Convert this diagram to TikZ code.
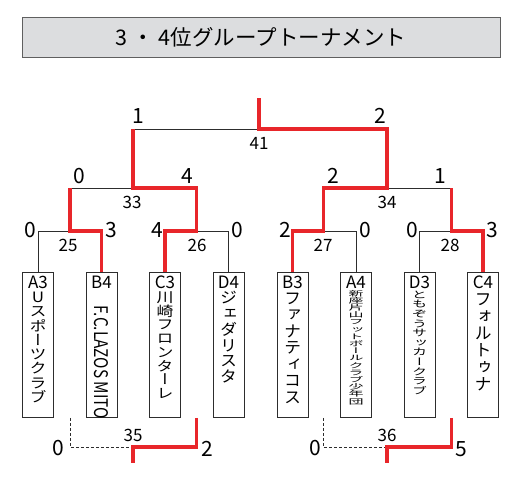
\documentclass[tikz,border=0pt]{standalone}
\usepackage{fontspec}
\usepackage{graphicx}
\setmainfont{Noto Sans CJK JP}
\newfontfamily\tatefont[RawFeature=+vert]{Noto Sans CJK JP}
\definecolor{winred}{RGB}{232, 38, 42}
\definecolor{titlegray}{RGB}{220, 221, 223}
\definecolor{titleframe}{RGB}{95, 95, 95}
\definecolor{lineblack}{RGB}{45, 45, 45}

% team names set top to bottom, one character per line
\def\tatechars#1{\ifx#1\relax\else\hbox to 1em{\vrule height .88em depth .12em width 0pt\hss#1\hss}\expandafter\tatechars\fi}
\newcommand\tate[3][17]{\scalebox{1}[#2]{\vbox{\fontsize{#1}{#1}\tatefont\offinterlineskip\tatechars#3\relax}}}

\begin{document}
\begin{tikzpicture}[x=1pt, y=-1pt,
    titlebox/.style={rectangle, draw=titleframe, fill=titlegray, line width=1pt, minimum width=478pt, minimum height=40pt, inner sep=0pt, font=\fontsize{21.5}{21.5}\selectfont},
    team/.style={rectangle, draw=lineblack, line width=0.8pt, minimum width=31pt, minimum height=145pt, anchor=north, inner sep=0pt},
    teamtext/.style={anchor=north, align=center, inner sep=4pt, font=\fontsize{17}{17}\selectfont},
    score/.style={inner sep=0pt, font=\fontsize{21}{21}\selectfont},
    matchno/.style={inner sep=0pt, font=\fontsize{17}{17}\selectfont},
    lose/.style={draw=lineblack, line width=0.8pt},
    win/.style={draw=winred, line width=3.2pt},
    nogame/.style={draw=lineblack, line width=0.7pt, dash pattern=on 3pt off 2pt}
]
    \useasboundingbox (0,0) rectangle (518,488);

    \node[titlebox] (title) at (261,37) {3 ・ 4位グループトーナメント};

    \node[team] (a3) at (38,272) {};
    \node[team] (b4) at (101.5,272) {};
    \node[team] (c3) at (165,272) {};
    \node[team] (d4) at (228.5,272) {};
    \node[team] (b3) at (292.5,272) {};
    \node[team] (a4) at (356,272) {};
    \node[team] (d3) at (419.5,272) {};
    \node[team] (c4) at (483,272) {};

    \node[teamtext] (a3t) at (a3.north) {A3\\\tate{.84}{Uスポーツクラブ}};
    \node[teamtext] (b4t) at (b4.north) {B4\\\rotatebox{-90}{\resizebox{113pt}{14pt}{F.C.LAZOS MITO}}};
    \node[teamtext] (c3t) at (c3.north) {C3\\\tate{.81}{川崎フロンターレ}};
    \node[teamtext] (d4t) at (d4.north) {D4\\\tate{.93}{ジェダリスタ}};
    \node[teamtext] (b3t) at (b3.north) {B3\\\tate{.97}{ファナティコス}};
    \node[teamtext] (a4t) at (a4.north) {A4\\\tate[15]{.48}{新座片山フットボールクラブ少年団}};
    \node[teamtext] (d3t) at (d3.north) {D3\\\tate[15]{.64}{ともぞうサッカークラブ}};
    \node[teamtext] (c4t) at (c4.north) {C4\\\tate{1}{フォルトゥナ}};

    \coordinate (m25) at (70,231);
    \coordinate (m26) at (196.5,231);
    \coordinate (m27) at (323.5,231);
    \coordinate (m28) at (451.5,231);
    \coordinate (m33) at (133,188);
    \coordinate (m34) at (387,188);
    \coordinate (m41) at (259,129);
    \coordinate (champ) at (259,98);
    \coordinate (m35) at (133,447);
    \coordinate (m36) at (387,447);

    % losing sides
    \draw[lose] (a3.north) |- (m25);
    \draw[lose] (d4.north) |- (m26);
    \draw[lose] (a4.north) |- (m27);
    \draw[lose] (d3.north) |- (m28);
    \draw[lose] (m25 |- m33) -- (m33);
    \draw[lose] (m34) -- (m28 |- m34);
    \draw[lose] (m33 |- m41) -- (m41);
    \draw[nogame] (m25 |- a3.south) |- (m35);
    \draw[nogame] (m27 |- b3.south) |- (m36);

    % winning sides
    \draw[win] (b4.north) |- (m25) -- (m25 |- m33);
    \draw[win] (c3.north) |- (m26) -- (m26 |- m33) -| (m33 |- m41);
    \draw[win] (b3.north) |- (m27) -- (m27 |- m34) -- (m34) -- (m34 |- m41) -- (m41) -- (champ);
    \draw[win] (c4.north) |- (m28) -- (m28 |- m34);
    \draw[win] (m26 |- d4.south) |- (m35) -- ++(0,16);
    \draw[win] (m28 |- c4.south) |- (m36) -- ++(0,16);

    \node[score] (s25a) at (30,230) {0};
    \node[score] (s25b) at (111,230) {3};
    \node[score] (s26a) at (157,230) {4};
    \node[score] (s26b) at (237,230) {0};
    \node[score] (s27a) at (285,230) {2};
    \node[score] (s27b) at (365,230) {0};
    \node[score] (s28a) at (412,230) {0};
    \node[score] (s28b) at (492,230) {3};
    \node[score] (s33a) at (79,176) {0};
    \node[score] (s33b) at (187,176) {4};
    \node[score] (s34a) at (333,176) {2};
    \node[score] (s34b) at (440,176) {1};
    \node[score] (s41a) at (138,116) {1};
    \node[score] (s41b) at (380,116) {2};
    \node[score] (s35a) at (58,448) {0};
    \node[score] (s35b) at (207,449) {2};
    \node[score] (s36a) at (315,448) {0};
    \node[score] (s36b) at (461,449) {5};

    \node[matchno] (n25) at (68,245) {25};
    \node[matchno] (n26) at (197,245) {26};
    \node[matchno] (n27) at (323,245) {27};
    \node[matchno] (n28) at (450,245) {28};
    \node[matchno] (n33) at (132,202) {33};
    \node[matchno] (n34) at (387,202) {34};
    \node[matchno] (n41) at (259,143) {41};
    \node[matchno] (n35) at (133,435) {35};
    \node[matchno] (n36) at (387,435) {36};
\end{tikzpicture}
\end{document}
